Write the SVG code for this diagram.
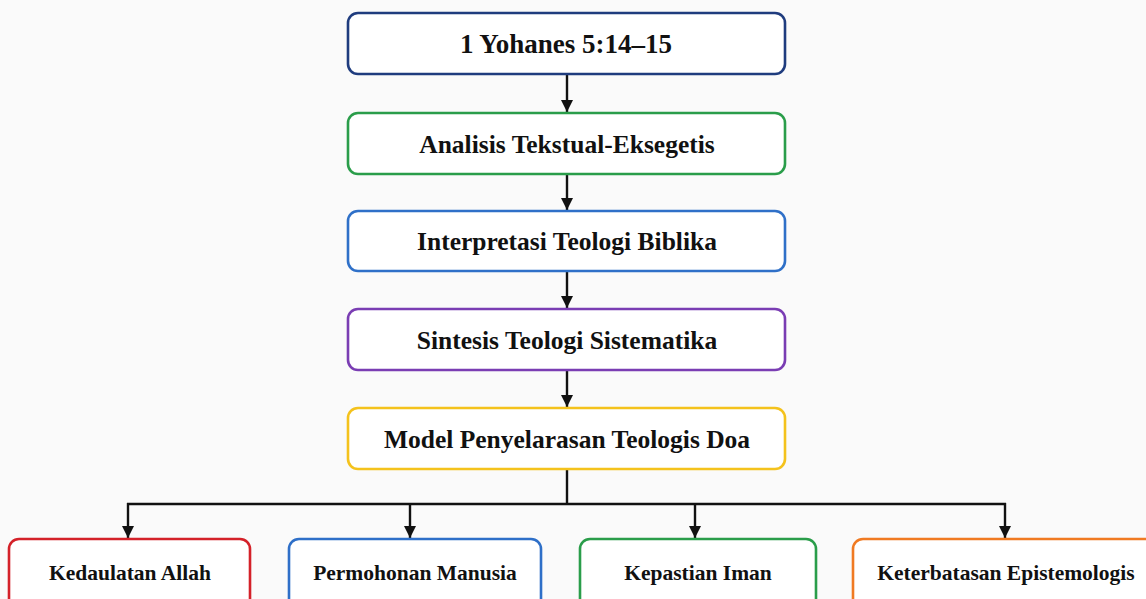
<svg xmlns="http://www.w3.org/2000/svg" width="1146" height="599" viewBox="0 0 1146 599">
<style>
.box{fill:#ffffff;stroke-width:2.6}
.t{font-family:"Liberation Serif","Times New Roman",serif;font-weight:bold;fill:#111;text-anchor:middle;dominant-baseline:central}
.big{font-size:25.5px}
.sm{font-size:21.5px}
.c{stroke:#111;stroke-width:2.4;fill:none}
</style>
<defs>
<marker id="ah" markerWidth="12" markerHeight="12" viewBox="0 0 12 12" refX="12" refY="6" orient="auto" markerUnits="userSpaceOnUse">
<path d="M0,0 L12,6 L0,12 Z" fill="#111"/>
</marker>
</defs>
<rect width="1146" height="599" fill="#fafafa"/>
<g id="connectors">
<line class="c" x1="567" y1="74" x2="567" y2="112" marker-end="url(#ah)"/>
<line class="c" x1="567" y1="174" x2="567" y2="210" marker-end="url(#ah)"/>
<line class="c" x1="567" y1="271" x2="567" y2="308" marker-end="url(#ah)"/>
<line class="c" x1="567" y1="370" x2="567" y2="407" marker-end="url(#ah)"/>
<line class="c" x1="567" y1="469" x2="567" y2="504"/>
<line class="c" x1="127" y1="504" x2="1006" y2="504"/>
<line class="c" x1="128" y1="503" x2="128" y2="538" marker-end="url(#ah)"/>
<line class="c" x1="410" y1="503" x2="410" y2="538" marker-end="url(#ah)"/>
<line class="c" x1="695" y1="503" x2="695" y2="538" marker-end="url(#ah)"/>
<line class="c" x1="1005" y1="503" x2="1005" y2="538" marker-end="url(#ah)"/>
</g>
<g id="n1"><rect class="box" x="348" y="13" width="437" height="61" rx="10" stroke="#1f3c7e"/><text class="t" x="566" y="44" font-size="27px">1 Yohanes 5:14–15</text></g>
<g id="n2"><rect class="box" x="348" y="113" width="437" height="61" rx="10" stroke="#2a9d4a"/><text class="t big" x="567" y="144">Analisis Tekstual-Eksegetis</text></g>
<g id="n3"><rect class="box" x="348" y="211" width="437" height="60" rx="10" stroke="#2f70c8"/><text class="t big" x="567" y="241">Interpretasi Teologi Biblika</text></g>
<g id="n4"><rect class="box" x="348" y="309" width="437" height="61" rx="10" stroke="#7a3db3"/><text class="t big" x="567" y="340">Sintesis Teologi Sistematika</text></g>
<g id="n5"><rect class="box" x="348" y="408" width="437" height="61" rx="10" stroke="#f4c21c"/><text class="t big" x="567" y="439">Model Penyelarasan Teologis Doa</text></g>
<g id="b1"><rect class="box" x="9" y="539" width="241" height="75" rx="10" stroke="#d42129"/><text class="t sm" x="130" y="573">Kedaulatan Allah</text></g>
<g id="b2"><rect class="box" x="289" y="539" width="252" height="75" rx="10" stroke="#2e6fc8"/><text class="t sm" x="415" y="573">Permohonan Manusia</text></g>
<g id="b3"><rect class="box" x="580" y="539" width="236" height="75" rx="10" stroke="#2a9d4a"/><text class="t sm" x="698" y="573">Kepastian Iman</text></g>
<g id="b4"><rect class="box" x="853" y="539" width="306" height="75" rx="10" stroke="#f07a22"/><text class="t sm" x="1006" y="573">Keterbatasan Epistemologis</text></g>
</svg>
